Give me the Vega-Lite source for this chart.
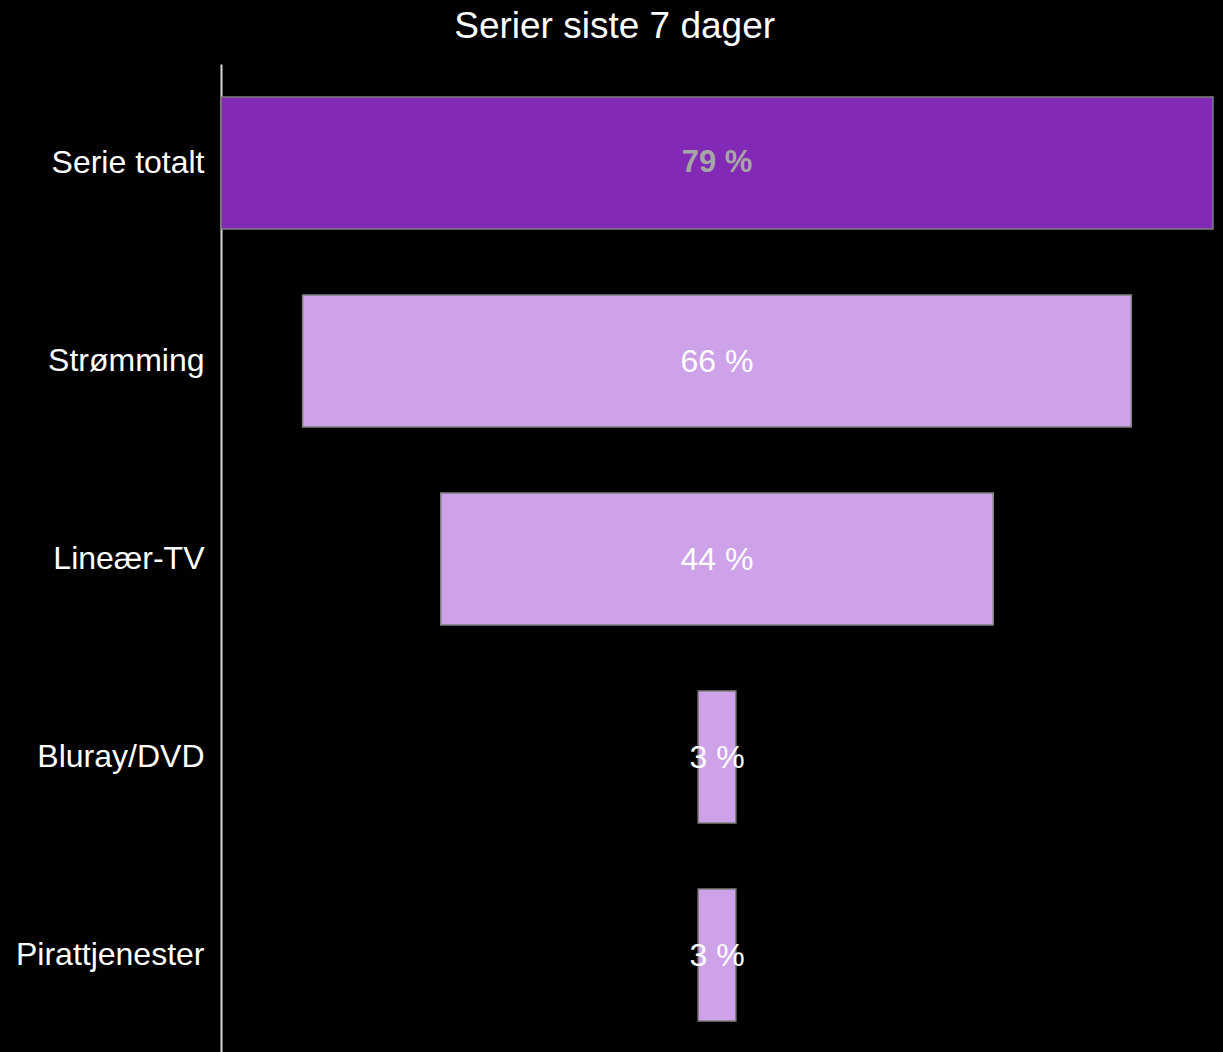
{
  "$schema": "https://vega.github.io/schema/vega-lite/v6.json",
  "background": "#000000",
  "padding": {"left": 15, "top": 8, "right": 10, "bottom": 0},
  "width": 992,
  "height": 990,
  "title": {
    "text": "Serier siste 7 dager",
    "color": "#ffffff",
    "font": "Liberation Sans",
    "fontSize": 37,
    "fontWeight": "normal",
    "anchor": "middle",
    "frame": "bounds",
    "offset": 18
  },
  "config": {
    "view": {"stroke": null},
    "font": "Liberation Sans"
  },
  "data": {
    "values": [
      {"kategori": "Serie totalt", "verdi": 79, "etikett": "79 %", "type": "total"},
      {"kategori": "Strømming", "verdi": 66, "etikett": "66 %", "type": "kanal"},
      {"kategori": "Lineær-TV", "verdi": 44, "etikett": "44 %", "type": "kanal"},
      {"kategori": "Bluray/DVD", "verdi": 3, "etikett": "3 %", "type": "kanal"},
      {"kategori": "Pirattjenester", "verdi": 3, "etikett": "3 %", "type": "kanal"}
    ]
  },
  "encoding": {
    "y": {
      "field": "kategori",
      "type": "nominal",
      "sort": null,
      "scale": {"paddingInner": 0.3333, "paddingOuter": 0.1667},
      "axis": {
        "title": null,
        "domainColor": "#d9d9d9",
        "domainWidth": 2,
        "ticks": false,
        "grid": false,
        "labelColor": "#ffffff",
        "labelFontSize": 32,
        "labelFont": "Liberation Sans",
        "labelPadding": 17,
        "labelLimit": 400
      }
    }
  },
  "layer": [
    {
      "mark": {"type": "bar", "stroke": "#7f7f7f", "strokeWidth": 1.5},
      "encoding": {
        "x": {
          "field": "verdi",
          "type": "quantitative",
          "stack": "center",
          "scale": {"domain": [0, 79], "nice": false, "zero": false},
          "axis": null
        },
        "color": {
          "field": "type",
          "type": "nominal",
          "scale": {"domain": ["total", "kanal"], "range": ["#8229B5", "#CDA2E8"]},
          "legend": null
        }
      }
    },
    {
      "transform": [{"filter": "datum.type === 'total'"}],
      "mark": {"type": "text", "fontSize": 31, "fontWeight": "bold", "color": "#a6a6a6", "baseline": "middle", "align": "center", "font": "Liberation Sans"},
      "encoding": {
        "x": {"datum": 39.5, "type": "quantitative"},
        "text": {"field": "etikett"}
      }
    },
    {
      "transform": [{"filter": "datum.type === 'kanal'"}],
      "mark": {"type": "text", "fontSize": 32, "fontWeight": "normal", "color": "#ffffff", "baseline": "middle", "align": "center", "font": "Liberation Sans", "dy": 1},
      "encoding": {
        "x": {"datum": 39.5, "type": "quantitative"},
        "text": {"field": "etikett"}
      }
    }
  ]
}
